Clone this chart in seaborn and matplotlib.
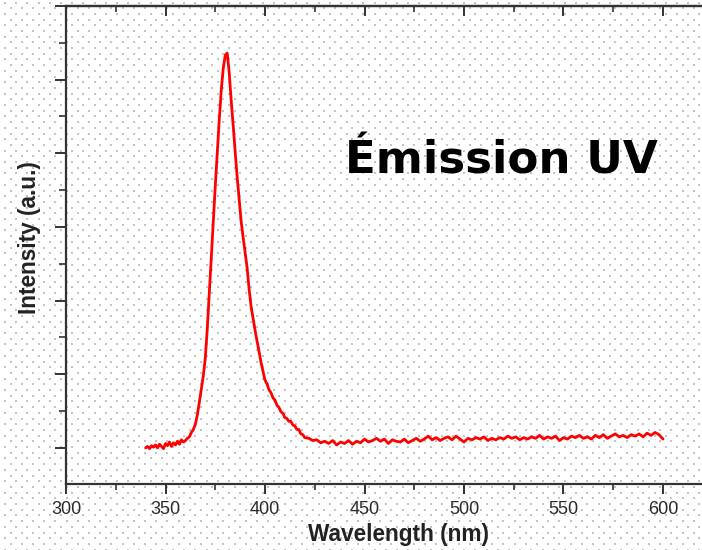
import numpy as np
import pandas as pd
import matplotlib
matplotlib.use("Agg")
import matplotlib.pyplot as plt
import seaborn as sns
from matplotlib.ticker import MultipleLocator, NullFormatter

# ---- data ----
wl_peak = list(range(340, 421))          # 1 nm sampling across the emission band
int_peak = [
    0.00, 0.02, -0.01, 0.03, 0.01, 0.04, 0.00, 0.05, 0.02, -0.01,
    0.06, 0.03, 0.08, 0.02, 0.07, 0.04, 0.09, 0.05, 0.11, 0.08,
    0.10, 0.13, 0.15, 0.21, 0.25, 0.32, 0.45, 0.62, 0.80, 0.98,
    1.22, 1.62, 2.09, 2.58, 3.07, 3.55, 4.00, 4.45, 4.85, 5.15,
    5.33, 5.36, 5.10, 4.72, 4.38, 4.02, 3.68, 3.38, 3.08, 2.86,
    2.66, 2.45, 2.16, 1.92, 1.76, 1.60, 1.45, 1.31, 1.16, 1.04,
    0.92, 0.87, 0.79, 0.75, 0.68, 0.65, 0.58, 0.55, 0.49, 0.47,
    0.41, 0.40, 0.36, 0.36, 0.31, 0.30, 0.25, 0.25, 0.19, 0.18,
    0.14,
]
wl_tail = list(range(422, 601, 2))       # 2 nm sampling on the flat tail
int_tail = [
    0.13, 0.10, 0.11, 0.07, 0.09, 0.06, 0.10, 0.04, 0.08, 0.06,
    0.10, 0.05, 0.09, 0.07, 0.12, 0.08, 0.10, 0.13, 0.09, 0.12,
    0.06, 0.11, 0.09, 0.08, 0.12, 0.07, 0.10, 0.13, 0.09, 0.12,
    0.16, 0.11, 0.14, 0.10, 0.13, 0.15, 0.11, 0.16, 0.12, 0.08,
    0.13, 0.11, 0.14, 0.12, 0.15, 0.10, 0.13, 0.11, 0.14, 0.12,
    0.16, 0.13, 0.15, 0.11, 0.14, 0.12, 0.15, 0.13, 0.17, 0.12,
    0.15, 0.13, 0.16, 0.10, 0.14, 0.12, 0.16, 0.14, 0.17, 0.13,
    0.15, 0.12, 0.17, 0.14, 0.18, 0.13, 0.16, 0.19, 0.15, 0.17,
    0.14, 0.18, 0.16, 0.19, 0.15, 0.20, 0.17, 0.21, 0.18, 0.12,
]
x_ticks = [300, 350, 400, 450, 500, 550, 600]
title_text = "Émission UV"
x_label = "Wavelength (nm)"
y_label = "Intensity (a.u.)"

assert len(wl_peak) == len(int_peak) and len(wl_tail) == len(int_tail)
df = pd.DataFrame({"wavelength": wl_peak + wl_tail,
                   "intensity": int_peak + int_tail})

# ---- figure ----
sns.set_style("ticks")
plt.rcParams["font.family"] = ["Liberation Sans", "DejaVu Sans"]

W, H = 702, 550
fig = plt.figure(figsize=(W / 100, H / 100), dpi=100)
fig.patch.set_facecolor("white")

# dotted background texture
bg = fig.add_axes([0, 0, 1, 1], zorder=-5)
bg.set_xlim(0, W)
bg.set_ylim(H, 0)
bg.axis("off")
dx, dy = 11.2, 5.7
pts_x, pts_y = [], []
for r, yy in enumerate(np.arange(2.5, H, dy)):
    off = 5.0 if r % 2 == 0 else 10.6
    xs = np.arange(off, W, dx)
    pts_x.extend(xs)
    pts_y.extend([yy] * len(xs))
bg.plot(pts_x, pts_y, ls="none", marker="s", ms=2.1, mew=0, color="#c4c4c4",
        antialiased=False)

# main axes: left spine at x=66px, bottom at y=484px, top at y=6px
left, bottom, top = 66, 484, 6
ax = fig.add_axes([left / W, (H - bottom) / H, (W - left) / W, (bottom - top) / H])
ax.patch.set_alpha(0)

sns.lineplot(data=df, x="wavelength", y="intensity", ax=ax,
             color="#ff0000", lw=2.0, estimator=None, sort=False)

ax.set_xlim(300, 300 + (W - left) / 1.99)
ax.set_ylim(-0.49, 6.0)

for s in ["left", "bottom", "top"]:
    ax.spines[s].set_linewidth(1.6)
    ax.spines[s].set_color("#333333")
ax.spines["right"].set_visible(False)

ax.set_xticks(x_ticks)
ax.xaxis.set_minor_locator(MultipleLocator(25))
ax.yaxis.set_major_locator(MultipleLocator(1))
ax.yaxis.set_minor_locator(MultipleLocator(0.5))
ax.yaxis.set_major_formatter(NullFormatter())
ax.tick_params(axis="x", which="major", direction="out", length=7, width=1.4,
               color="#333333", labelsize=13, labelcolor="#2a2a2a", pad=5)
ax.tick_params(axis="x", which="minor", direction="out", length=4, width=1.2,
               color="#333333")
ax.tick_params(axis="y", which="major", direction="out", length=8, width=1.4,
               color="#333333")
ax.tick_params(axis="y", which="minor", direction="out", length=5, width=1.2,
               color="#333333")

# top axis ticks pointing inward
sec = ax.secondary_xaxis("top")
sec.set_xticks(x_ticks)
sec.xaxis.set_minor_locator(MultipleLocator(25))
sec.tick_params(axis="x", which="major", direction="in", length=7, width=1.4,
                color="#333333", labeltop=False)
sec.tick_params(axis="x", which="minor", direction="in", length=4, width=1.2,
                color="#333333")
sec.spines["top"].set_linewidth(1.6)
sec.spines["top"].set_color("#333333")

ax.set_xlabel(x_label, fontsize=16.3, fontweight="bold", color="#222222")
ax.xaxis.set_label_coords((398 - left) / (W - left), -0.081)
ax.set_ylabel(y_label, fontsize=16.3, fontweight="bold", color="#222222")
ax.yaxis.set_label_coords(-0.040, 0.515)

fig.text(345 / W, 1 - 174 / H, title_text, fontsize=32.5, fontweight="bold",
         family=["DejaVu Sans"], color="black", ha="left", va="baseline")

fig.savefig("out.png", dpi=100, facecolor="white")
